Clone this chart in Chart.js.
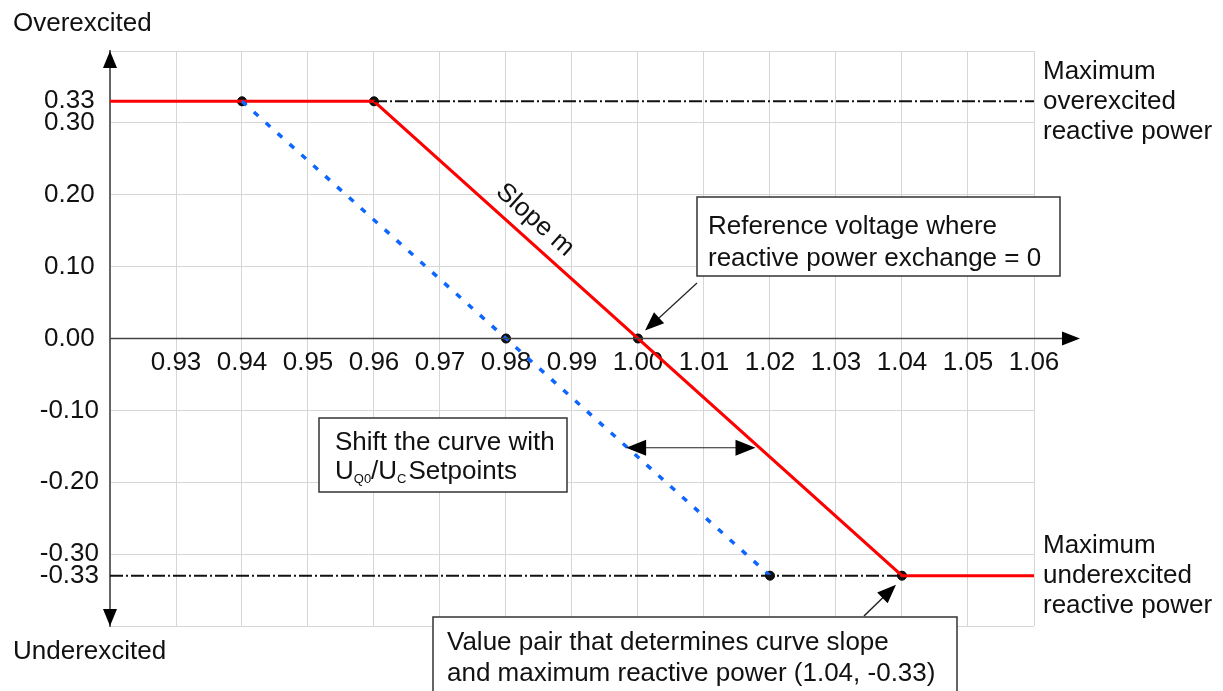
<!DOCTYPE html>
<html>
<head>
<meta charset="utf-8">
<script src="https://cdn.jsdelivr.net/npm/chart.js@4/dist/chart.umd.min.js"></script>
<style>
  html, body { margin: 0; padding: 0; background: #fff; }
  #wrap { width: 1223px; height: 691px; }
</style>
</head>
<body>
<div id="wrap"><canvas id="qu-grafica" width="1223" height="691"></canvas></div>
<script>
// axis ticks
const xTicks = [0.92, 0.93, 0.94, 0.95, 0.96, 0.97, 0.98, 0.99, 1.00, 1.01, 1.02, 1.03, 1.04, 1.05, 1.06];
const yTicks = [-0.40, -0.33, -0.30, -0.20, -0.10, 0.00, 0.10, 0.20, 0.30, 0.33, 0.40];
const yTickLabels = ["", "-0.33", "-0.30", "-0.20", "-0.10", "0.00", "0.10", "0.20", "0.30", "0.33", ""];

// Q(U) characteristic (red)
const curvaU = [0.92, 0.96, 1.04, 1.06];
const curvaQ = [0.33, 0.33, -0.33, -0.33];
// shifted characteristic (blue dotted)
const desplazadaU = [0.94, 1.02];
const desplazadaQ = [0.33, -0.33];
// max reactive power limits (dash-dot)
const limiteSupU = [0.96, 1.06];
const limiteSupQ = [0.33, 0.33];
const limiteInfU = [0.92, 1.04];
const limiteInfQ = [-0.33, -0.33];
// marked points
const puntosU = [0.94, 0.96, 1.00, 1.04, 0.98, 1.02];
const puntosQ = [0.33, 0.33, 0.00, -0.33, 0.00, -0.33];

const FUENTE = "'Liberation Sans', Arial, sans-serif";
const TAM = 26;

function pares(us, qs) {
	return us.map((u, i) => ({ x: u, y: qs[i] }));
}

function flecha(ctx, x1, y1, x2, y2, largo, ancho) {
	const ang = Math.atan2(y2 - y1, x2 - x1);
	ctx.save();
	ctx.translate(x2, y2);
	ctx.rotate(ang);
	ctx.beginPath();
	ctx.moveTo(0, 0);
	ctx.lineTo(-largo, -ancho);
	ctx.lineTo(-largo, ancho);
	ctx.closePath();
	ctx.fill();
	ctx.restore();
}

function linea(ctx, x1, y1, x2, y2) {
	ctx.beginPath();
	ctx.moveTo(x1, y1);
	ctx.lineTo(x2, y2);
	ctx.stroke();
}

function caja(ctx, x, y, w, h) {
	ctx.fillStyle = "#fff";
	ctx.fillRect(x, y, w, h);
	ctx.strokeStyle = "#333";
	ctx.lineWidth = 1.5;
	ctx.strokeRect(x, y, w, h);
	ctx.fillStyle = "#111";
}

const anotaciones = {
	id: "anotaciones",
	afterDatasetsDraw(chart) {
		const ctx = chart.ctx;
		const sx = chart.scales.x;
		const sy = chart.scales.y;
		const area = chart.chartArea;
		const y0 = sy.getPixelForValue(0);

		ctx.save();
		// horizontal axis with arrow
		ctx.strokeStyle = "#444";
		ctx.fillStyle = "#000";
		ctx.lineWidth = 1.5;
		linea(ctx, area.left, y0, 1064, y0);
		flecha(ctx, area.left, y0, 1080, y0, 18, 7);
		// vertical axis arrows
		flecha(ctx, area.left, area.bottom, area.left, area.top, 17, 7);
		flecha(ctx, area.left, area.top, area.left, area.bottom, 17, 7);

		ctx.fillStyle = "#111";
		ctx.font = TAM + "px " + FUENTE;
		ctx.textAlign = "left";
		ctx.textBaseline = "alphabetic";
		ctx.fillText("Overexcited", 13, 31);
		ctx.fillText("Underexcited", 13, 659);

		ctx.fillText("Maximum", 1043, 79);
		ctx.fillText("overexcited", 1043, 109);
		ctx.fillText("reactive power", 1043, 139);
		ctx.fillText("Maximum", 1043, 553);
		ctx.fillText("underexcited", 1043, 583);
		ctx.fillText("reactive power", 1043, 613);

		// slope label
		ctx.save();
		ctx.translate(535, 220);
		ctx.rotate(Math.atan2(sy.getPixelForValue(-0.33) - sy.getPixelForValue(0.33),
			sx.getPixelForValue(1.04) - sx.getPixelForValue(0.96)));
		ctx.textAlign = "center";
		ctx.textBaseline = "middle";
		ctx.fillText("Slope m", 0, 0);
		ctx.restore();

		// reference voltage box + arrow
		caja(ctx, 697, 197, 363, 79);
		ctx.fillText("Reference voltage where", 708, 234);
		ctx.fillText("reactive power exchange = 0", 708, 266);
		ctx.strokeStyle = "#222";
		ctx.lineWidth = 1.2;
		const px1 = sx.getPixelForValue(1.00) + 7, py1 = y0 - 8;
		linea(ctx, 697, 283, px1 + 8, py1 - 7);
		ctx.fillStyle = "#000";
		flecha(ctx, 697, 283, px1, py1, 19, 7.5);

		// shift box + double arrow
		caja(ctx, 319, 418, 248, 74);
		ctx.font = TAM + "px " + FUENTE;
		ctx.fillText("Shift the curve with", 335, 450);
		let x = 335;
		ctx.fillText("U", x, 479); x += ctx.measureText("U").width;
		ctx.font = "13px " + FUENTE;
		ctx.fillText("Q0", x, 483); x += ctx.measureText("Q0").width;
		ctx.font = TAM + "px " + FUENTE;
		ctx.fillText("/U", x, 479); x += ctx.measureText("/U").width;
		ctx.font = "13px " + FUENTE;
		ctx.fillText("C", x, 483); x += ctx.measureText("C").width + 2;
		ctx.font = TAM + "px " + FUENTE;
		ctx.fillText("Setpoints", x, 479);

		const ya = sy.getPixelForValue(-0.152);
		const xa1 = sx.getPixelForValue(0.9982), xa2 = sx.getPixelForValue(1.0178);
		ctx.strokeStyle = "#222";
		ctx.lineWidth = 1.2;
		linea(ctx, xa1 + 10, ya, xa2 - 10, ya);
		ctx.fillStyle = "#000";
		flecha(ctx, xa2, ya, xa1, ya, 20, 8);
		flecha(ctx, xa1, ya, xa2, ya, 20, 8);

		// value pair box + arrow
		ctx.fillStyle = "#111";
		caja(ctx, 433, 617, 524, 90);
		ctx.fillText("Value pair that determines curve slope", 447, 650);
		ctx.fillText("and maximum reactive power (1.04, -0.33)", 447, 681);
		const px3 = sx.getPixelForValue(1.04) - 6, py3 = sy.getPixelForValue(-0.33) + 9;
		ctx.strokeStyle = "#222";
		linea(ctx, 864, 616, px3 - 6, py3 + 6);
		ctx.fillStyle = "#000";
		flecha(ctx, 864, 616, px3, py3, 19, 7.5);
		ctx.restore();
	},
};

new Chart(document.getElementById("qu-grafica"), {
	type: "line",
	data: {
		datasets: [
			{
				data: pares(limiteSupU, limiteSupQ),
				borderColor: "#111",
				borderWidth: 2,
				borderDash: [13, 3, 2, 3],
				pointRadius: 0,
			},
			{
				data: pares(limiteInfU, limiteInfQ),
				borderColor: "#111",
				borderWidth: 2,
				borderDash: [13, 3, 2, 3],
				pointRadius: 0,
			},
			{
				data: pares(desplazadaU, desplazadaQ),
				borderColor: "#0f66ff",
				borderWidth: 3.5,
				borderDash: [6, 10],
				pointRadius: 0,
			},
			{
				data: pares(curvaU, curvaQ),
				borderColor: "#ff0000",
				borderWidth: 3,
				pointRadius: 0,
			},
			{
				data: pares(puntosU, puntosQ),
				showLine: false,
				pointRadius: 4.5,
				pointBackgroundColor: "#111",
				pointBorderColor: "#000",
				pointBorderWidth: 1,
			},
		],
	},
	options: {
		responsive: false,
		animation: false,
		layout: {
			padding: { left: 0, top: 51, right: 189, bottom: 65 },
		},
		scales: {
			x: {
				type: "linear",
				position: { y: 0 },
				min: 0.92,
				max: 1.06,
				afterBuildTicks: (scale) => {
					scale.ticks = xTicks.map((v) => ({ value: v }));
				},
				ticks: {
					color: "#111",
					font: { family: FUENTE, size: TAM },
					padding: 9,
					maxRotation: 0,
					autoSkip: false,
					callback: (v) => (v === xTicks[0] ? "" : Number(v).toFixed(2)),
				},
				grid: { color: "#d6d6d6", lineWidth: 1, drawTicks: false },
				border: { display: false },
			},
			y: {
				type: "linear",
				min: -0.4,
				max: 0.4,
				afterBuildTicks: (scale) => {
					scale.ticks = yTicks.map((v) => ({ value: v }));
				},
				afterFit: (scale) => {
					scale.width = 110;
				},
				ticks: {
					color: "#111",
					font: { family: FUENTE, size: TAM },
					padding: 11,
					crossAlign: "center",
					autoSkip: false,
					callback: (v, i) => yTickLabels[i],
				},
				grid: {
					color: (c) => (c.tick && Math.abs(c.tick.value) === 0.33 ? "rgba(0,0,0,0)" : "#d6d6d6"),
					lineWidth: 1,
					drawTicks: false,
				},
				border: { display: true, color: "#666", width: 2 },
			},
		},
		plugins: {
			legend: { display: false },
			tooltip: { enabled: false },
		},
	},
	plugins: [anotaciones],
});
</script>
</body>
</html>
